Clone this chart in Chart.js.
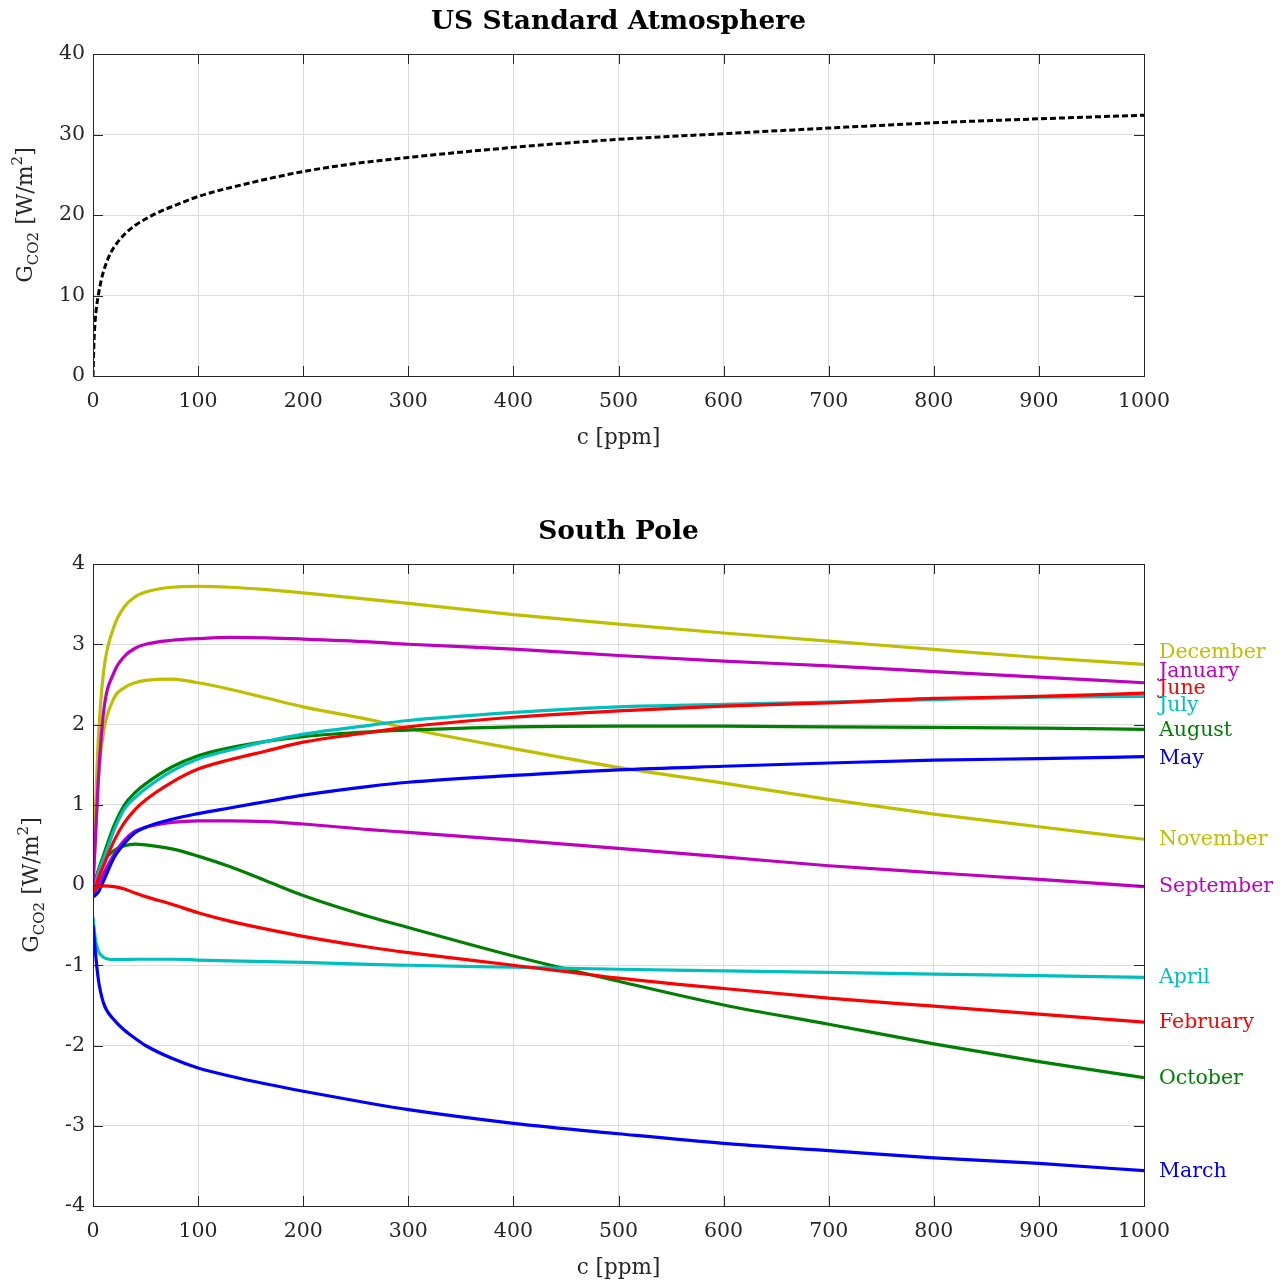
<!DOCTYPE html>
<html>
<head>
<meta charset="utf-8">
<script src="https://cdn.jsdelivr.net/npm/chart.js@4.4.1/dist/chart.umd.min.js"></script>
<style>
body { margin: 0; background: #fff; }
#c1 { position: absolute; left: 0; top: 0; }
#c2 { position: absolute; left: 0; top: 490px; }
</style>
</head>
<body>
<canvas id="c1" width="1287" height="460" style="width:1287px;height:460px"></canvas>
<canvas id="c2" width="1287" height="793" style="width:1287px;height:793px"></canvas>
<script>
// US standard atmosphere curve
var ppmStd = [0, 1, 2, 3, 5, 8, 10, 15, 20, 30, 40, 50, 60, 80, 100, 150, 200, 250, 300, 400, 500, 600, 700, 800, 900, 1000];
var gStd = [0, 4.5, 6.8, 8.2, 10.0, 12.0, 13.0, 14.8, 16.0, 17.6, 18.7, 19.5, 20.2, 21.3, 22.3, 24.0, 25.4, 26.4, 27.15, 28.4, 29.4, 30.1, 30.8, 31.45, 31.95, 32.4];

// South Pole, one array per month
var ppm = [0, 2, 5, 10, 20, 30, 40, 50, 75, 100, 130, 165, 200, 263, 300, 400, 500, 600, 700, 800, 900, 1000];
var january   = [0.0, 0.5, 1.3, 2.15, 2.65, 2.85, 2.95, 3.0, 3.05, 3.07, 3.085, 3.08, 3.065, 3.03, 3.0, 2.94, 2.86, 2.79, 2.73, 2.66, 2.59, 2.52];
var february  = [-0.1, -0.05, -0.02, -0.01, -0.02, -0.05, -0.1, -0.145, -0.24, -0.345, -0.45, -0.55, -0.64, -0.776, -0.843, -1.0, -1.16, -1.29, -1.41, -1.51, -1.61, -1.71];
var march     = [-0.5, -0.8, -1.17, -1.47, -1.68, -1.81, -1.91, -2.0, -2.16, -2.28, -2.38, -2.48, -2.57, -2.72, -2.80, -2.97, -3.10, -3.22, -3.31, -3.40, -3.47, -3.56];
var april     = [-0.4, -0.65, -0.82, -0.9, -0.93, -0.93, -0.925, -0.925, -0.925, -0.935, -0.945, -0.955, -0.965, -0.99, -1.0, -1.025, -1.05, -1.07, -1.09, -1.11, -1.13, -1.15];
var may       = [-0.15, -0.13, -0.09, 0.05, 0.34, 0.52, 0.65, 0.72, 0.82, 0.89, 0.96, 1.04, 1.12, 1.23, 1.28, 1.365, 1.435, 1.48, 1.52, 1.555, 1.575, 1.60];
var june      = [-0.1, -0.05, 0.08, 0.24, 0.55, 0.78, 0.94, 1.06, 1.28, 1.445, 1.56, 1.67, 1.78, 1.90, 1.97, 2.09, 2.17, 2.23, 2.27, 2.325, 2.35, 2.39];
var july      = [-0.1, 0.0, 0.15, 0.32, 0.68, 0.95, 1.09, 1.20, 1.42, 1.57, 1.68, 1.79, 1.88, 1.99, 2.05, 2.15, 2.22, 2.25, 2.28, 2.31, 2.34, 2.35];
var august    = [-0.1, 0.02, 0.18, 0.37, 0.74, 1.0, 1.15, 1.26, 1.47, 1.61, 1.71, 1.79, 1.85, 1.91, 1.93, 1.97, 1.98, 1.98, 1.97, 1.965, 1.955, 1.94];
var september = [-0.12, -0.08, 0.0, 0.14, 0.38, 0.56, 0.67, 0.72, 0.78, 0.80, 0.80, 0.79, 0.76, 0.69, 0.655, 0.56, 0.457, 0.35, 0.24, 0.153, 0.07, -0.02];
var october   = [-0.1, 0.05, 0.17, 0.3, 0.43, 0.49, 0.51, 0.50, 0.45, 0.36, 0.23, 0.05, -0.13, -0.395, -0.53, -0.885, -1.2, -1.495, -1.735, -1.98, -2.2, -2.4];
var november  = [0.0, 0.5, 1.3, 1.9, 2.33, 2.46, 2.52, 2.55, 2.565, 2.52, 2.44, 2.33, 2.22, 2.06, 1.95, 1.70, 1.465, 1.27, 1.067, 0.884, 0.726, 0.57];
var december  = [0.0, 0.8, 1.8, 2.65, 3.22, 3.47, 3.59, 3.65, 3.71, 3.72, 3.71, 3.68, 3.64, 3.56, 3.51, 3.37, 3.25, 3.14, 3.04, 2.935, 2.835, 2.75];

var monthNames = ["January", "February", "March", "April", "May", "June", "July", "August", "September", "October", "November", "December"];
var monthData = [january, february, march, april, may, june, july, august, september, october, november, december];
var monthColors = ["#bf00bf", "#ff0000", "#0000ff", "#00bfbf", "#0000ff", "#ff0000", "#00bfbf", "#008000", "#bf00bf", "#008000", "#bfbf00", "#bfbf00"];
// where the month names sit at the right edge (in W/m2)
var labelY = [2.66, -1.72, -3.57, -1.16, 1.58, 2.45, 2.23, 1.92, -0.02, -2.41, 0.57, 2.90];

var FONT = "'DejaVu Serif', serif";
var AXIS = "#262626";

function pts(xs, ys) {
    let out = [];
    for(let i=0; i<xs.length; i++)
        out.push({x: xs[i], y: ys[i]});
    return out;
}

// box, inner ticks, titles, y label with sub/superscript
var frame = {
    id: 'frame',
    afterDraw(chart, args, opts) {
        let ctx = chart.ctx;
        let a = chart.chartArea;
        let xs = chart.scales.x, ys = chart.scales.y;
        ctx.save();
        ctx.strokeStyle = AXIS;
        ctx.lineWidth = 1;
        ctx.strokeRect(a.left + 0.5, a.top + 0.5, a.right - a.left, a.bottom - a.top);

        ctx.beginPath();
        xs.ticks.forEach((t) => {
            let px = Math.round(xs.getPixelForValue(t.value)) + 0.5;
            ctx.moveTo(px, a.bottom); ctx.lineTo(px, a.bottom - 10);
            ctx.moveTo(px, a.top); ctx.lineTo(px, a.top + 10);
        });
        ys.ticks.forEach((t) => {
            let py = Math.round(ys.getPixelForValue(t.value)) + 0.5;
            ctx.moveTo(a.left, py); ctx.lineTo(a.left + 10, py);
            ctx.moveTo(a.right, py); ctx.lineTo(a.right - 10, py);
        });
        ctx.stroke();

        ctx.fillStyle = "#000";
        ctx.textAlign = "center";
        ctx.textBaseline = "middle";
        ctx.font = "bold 26.5px " + FONT;
        ctx.fillText(opts.title, (a.left + a.right) / 2, a.top - 32);

        ctx.fillStyle = AXIS;
        ctx.font = "21.5px " + FONT;
        ctx.fillText("c [ppm]", (a.left + a.right) / 2, a.bottom + 62);

        // rotated y label: G_CO2 [W/m^2]
        let parts = [
            ["G", 22, 0], ["CO2", 15, 6], [" [W/m", 22, 0], ["2", 15, -10], ["]", 22, 0]
        ];
        let w = 0;
        parts.forEach((p) => { ctx.font = p[1] + "px " + FONT; w += ctx.measureText(p[0]).width; });
        ctx.translate(opts.yTitleX, (a.top + a.bottom) / 2);
        ctx.rotate(-Math.PI / 2);
        ctx.textAlign = "left";
        ctx.textBaseline = "alphabetic";
        let x = -w / 2;
        parts.forEach((p) => {
            ctx.font = p[1] + "px " + FONT;
            ctx.fillText(p[0], x, 8 + p[2]);
            x += ctx.measureText(p[0]).width;
        });
        ctx.restore();
    }
};

var monthLabels = {
    id: 'monthLabels',
    afterDraw(chart, args, opts) {
        if(!opts.show) return;
        let ctx = chart.ctx;
        let ys = chart.scales.y;
        ctx.save();
        ctx.font = "20.5px " + FONT;
        ctx.textAlign = "left";
        ctx.textBaseline = "middle";
        for(let i=0; i<monthNames.length; i++) {
            ctx.fillStyle = monthColors[i];
            ctx.fillText(monthNames[i], chart.chartArea.right + 15, ys.getPixelForValue(labelY[i]));
        }
        ctx.restore();
    }
};

function scales(ymin, ymax, ystep, xHeight) {
    return {
        x: {
            type: 'linear', min: 0, max: 1000,
            ticks: {stepSize: 100, color: AXIS, font: {family: FONT, size: 20.5}, padding: 13, maxRotation: 0,
                    callback: (v) => String(v)},
            grid: {color: "#dcdcdc", drawTicks: false},
            border: {display: false},
            afterFit: (s) => { s.height = xHeight; }
        },
        y: {
            type: 'linear', min: ymin, max: ymax,
            ticks: {stepSize: ystep, color: AXIS, font: {family: FONT, size: 20.5}, padding: 8,
                    callback: (v) => String(v)},
            grid: {color: "#dcdcdc", drawTicks: false},
            border: {display: false},
            afterFit: (s) => { s.width = 93; }
        }
    };
}

function start() {
    new Chart(document.getElementById("c1"), {
        type: 'line',
        data: {
            datasets: [{
                data: pts(ppmStd, gStd),
                borderColor: "#000",
                borderWidth: 3,
                borderDash: [6, 3],
                pointRadius: 0,
                cubicInterpolationMode: 'monotone'
            }]
        },
        options: {
            responsive: false,
            animation: false,
            layout: {padding: {top: 54, right: 143, left: 0, bottom: 0}},
            scales: scales(0, 40, 10, 84),
            plugins: {
                legend: {display: false},
                tooltip: {enabled: false},
                frame: {title: "US Standard Atmosphere", yTitleX: 24},
                monthLabels: {show: false}
            }
        },
        plugins: [frame, monthLabels]
    });

    let sets = [];
    for(let i=0; i<monthNames.length; i++) {
        sets.push({
            label: monthNames[i],
            data: pts(ppm, monthData[i]),
            borderColor: monthColors[i],
            borderWidth: 3.2,
            pointRadius: 0,
            cubicInterpolationMode: 'monotone'
        });
    }

    new Chart(document.getElementById("c2"), {
        type: 'line',
        data: {datasets: sets},
        options: {
            responsive: false,
            animation: false,
            layout: {padding: {top: 74, right: 143, left: 0, bottom: 0}},
            scales: scales(-4, 4, 1, 77),
            plugins: {
                legend: {display: false},
                tooltip: {enabled: false},
                frame: {title: "South Pole", yTitleX: 30},
                monthLabels: {show: true}
            }
        },
        plugins: [frame, monthLabels]
    });
}

start();
</script>
</body>
</html>
